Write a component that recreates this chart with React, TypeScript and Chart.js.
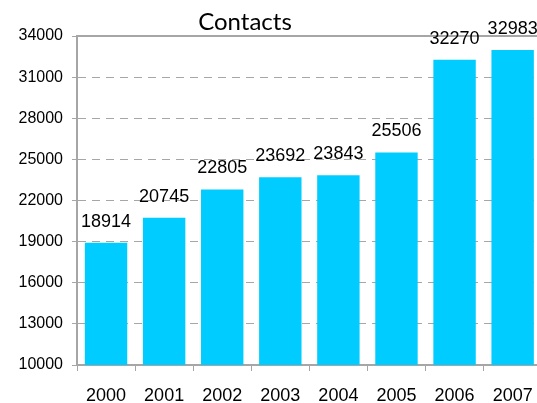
import React, { useEffect, useRef } from "react";
import { Chart, registerables } from "chart.js";

Chart.register(...registerables);

const TITLE = "Contacts";
const YEARS = ["2000", "2001", "2002", "2003", "2004", "2005", "2006", "2007"];
const CONTACTS = [18914, 20745, 22805, 23692, 23843, 25506, 32270, 32983];
const Y_MIN = 10000;
const Y_MAX = 34000;
const Y_STEP = 3000;

const BAR_COLOR = "#00CCFF";
const AXIS_COLOR = "#A6A6A6";
const FONT = "'Liberation Sans', Arial, sans-serif";

const titlePlugin = {
  id: "customTitle",
  afterDraw(chart: any) {
    const ctx = chart.ctx;
    ctx.save();
    ctx.font = "24px Lato, 'Open Sans', sans-serif";
    ctx.fillStyle = "#000";
    ctx.textAlign = "center";
    ctx.textBaseline = "alphabetic";
    ctx.fillText(TITLE, chart.chartArea.left + 168, chart.chartArea.top - 6);
    ctx.restore();
  },
};

const valueLabels = {
  id: "valueLabels",
  afterDatasetsDraw(chart: any) {
    const ctx = chart.ctx;
    const meta = chart.getDatasetMeta(0);
    const data = chart.data.datasets[0].data as number[];
    ctx.save();
    ctx.font = `18px ${FONT}`;
    ctx.fillStyle = "#000";
    ctx.textAlign = "center";
    ctx.textBaseline = "alphabetic";
    meta.data.forEach((bar: any, i: number) => {
      ctx.fillText(String(data[i]), bar.x, bar.y - 16);
    });
    ctx.restore();
  },
};

export default function App() {
  const ref = useRef<HTMLCanvasElement | null>(null);

  useEffect(() => {
    if (!ref.current) return;
    const chart = new Chart(ref.current, {
      type: "bar",
      data: {
        labels: YEARS,
        datasets: [
          {
            data: CONTACTS,
            backgroundColor: BAR_COLOR,
            borderWidth: 0,
            barPercentage: 0.73,
            categoryPercentage: 1,
          },
        ],
      },
      options: {
        responsive: false,
        animation: false,
        layout: { padding: { top: 36, left: 0, right: 0, bottom: 0 } },
        plugins: {
          legend: { display: false },
          title: { display: false },
          tooltip: { enabled: false },
        },
        scales: {
          x: {
            position: "bottom",
            offset: true,
            grid: {
              display: true,
              offset: true,
              drawOnChartArea: false,
              drawTicks: true,
              tickLength: 6,
              color: AXIS_COLOR,
              tickColor: AXIS_COLOR,
            },
            border: { display: true, color: AXIS_COLOR, width: 2 },
            ticks: {
              color: "#000",
              font: { family: FONT, size: 18 },
              padding: 14,
              maxRotation: 0,
            },
            afterFit(scale: any) {
              scale.height = 38;
            },
          },
          xTop: {
            position: "top",
            type: "category",
            grid: { display: false },
            ticks: { display: false },
            border: { display: true, color: AXIS_COLOR, width: 2 },
            afterFit(scale: any) {
              scale.height = 0;
            },
          },
          y: {
            min: Y_MIN,
            max: Y_MAX,
            ticks: {
              stepSize: Y_STEP,
              color: "#000",
              font: { family: FONT, size: 16 },
              padding: 9,
              callback: (v: any) => String(v),
            },
            grid: {
              color: AXIS_COLOR,
              tickColor: AXIS_COLOR,
              tickLength: 5,
              lineWidth: 1,
            },
            border: { display: true, color: AXIS_COLOR, width: 2, dash: [8, 6] },
            afterFit(scale: any) {
              scale.width = 77;
            },
          },
        },
      } as any,
      plugins: [titlePlugin, valueLabels],
    });
    return () => chart.destroy();
  }, []);

  return (
    <div
      style={{
        position: "fixed",
        left: 0,
        top: 0,
        width: 537,
        height: 403,
        overflow: "hidden",
        background: "#fff",
      }}
    >
      <canvas ref={ref} width={547} height={403} style={{ width: 547, height: 403, display: "block" }} />
    </div>
  );
}
